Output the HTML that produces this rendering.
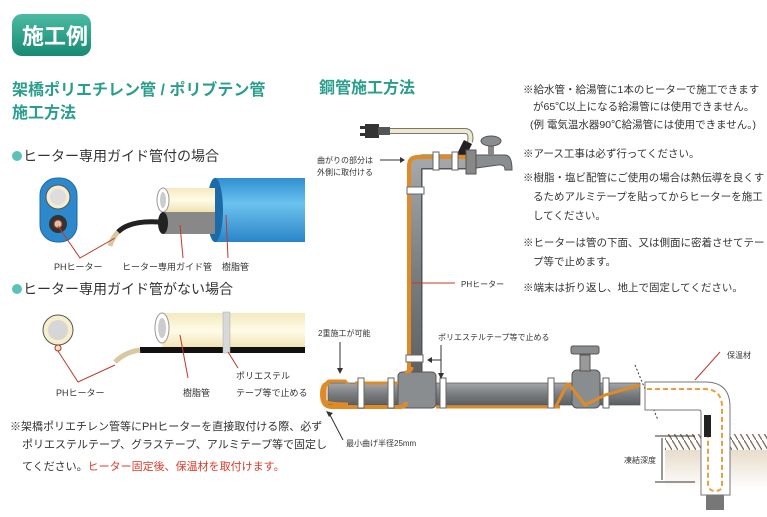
<!DOCTYPE html>
<html><head><meta charset="utf-8"><style>
body{margin:0;background:#fff;}
svg{display:block;font-family:"Liberation Sans","Noto Sans CJK JP",sans-serif;}
</style></head><body>
<svg width="767" height="517" viewBox="0 0 767 517" xmlns="http://www.w3.org/2000/svg">
<defs>
<linearGradient id="badge" x1="0" y1="0" x2="0" y2="1"><stop offset="0" stop-color="#4dbba3"/><stop offset="1" stop-color="#178a72"/></linearGradient>
<linearGradient id="blue" x1="0" y1="0" x2="0" y2="1"><stop offset="0" stop-color="#2f8fd0"/><stop offset="0.4" stop-color="#6cc2ee"/><stop offset="1" stop-color="#2a85c8"/></linearGradient>
<linearGradient id="cream" x1="0" y1="0" x2="0" y2="1"><stop offset="0" stop-color="#f3e9bf"/><stop offset="0.5" stop-color="#fffbe6"/><stop offset="1" stop-color="#efe2b0"/></linearGradient>
<linearGradient id="gray" x1="0" y1="0" x2="0" y2="1"><stop offset="0" stop-color="#a4a7a9"/><stop offset="0.5" stop-color="#7a7d80"/><stop offset="1" stop-color="#5c5f62"/></linearGradient>
<linearGradient id="soil" x1="0" y1="0" x2="0" y2="1"><stop offset="0" stop-color="#e8dccb"/><stop offset="1" stop-color="#fff"/></linearGradient>
<pattern id="hatch" width="6" height="10" patternUnits="userSpaceOnUse"><line x1="0" y1="0" x2="6" y2="10" stroke="#7a6a5a" stroke-width="1.3"/></pattern>
</defs>

<rect x="12" y="14" width="79" height="42" rx="10" fill="url(#badge)"/>
<text x="22" y="44" font-size="22" font-weight="bold" fill="#fff">施工例</text>

<text x="12" y="95" font-size="16" font-weight="bold" fill="#2a9e8c">架橋ポリエチレン管 / ポリブテン管</text>
<text x="12" y="118" font-size="16" font-weight="bold" fill="#2a9e8c">施工方法</text>

<circle cx="17" cy="156" r="5" fill="#5cc2b6"/>
<text x="23" y="161" font-size="14" fill="#333">ヒーター専用ガイド管付の場合</text>

<rect x="40" y="178" width="37" height="64" rx="17" fill="#2e88cc" stroke="#1c6aa8"/>
<circle cx="58" cy="197" r="12" fill="#f4ecd0" stroke="#555"/>
<circle cx="58" cy="197" r="8" fill="#ddd"/>
<circle cx="58" cy="224" r="9" fill="#333"/>
<circle cx="58" cy="224" r="4" fill="#d8c4a0" stroke="#a33"/>
<rect x="215" y="178" width="90" height="64" fill="url(#blue)"/>
<ellipse cx="215" cy="210" rx="8" ry="32" fill="#1c6aa8"/>
<rect x="163" y="188" width="52" height="24" fill="url(#cream)"/>
<rect x="163" y="212" width="52" height="22" fill="#888"/>
<ellipse cx="163" cy="200" rx="6" ry="12" fill="#fff" stroke="#999"/>
<ellipse cx="163" cy="200" rx="3" ry="8" fill="#ccc"/>
<ellipse cx="163" cy="223" rx="5" ry="11" fill="#222"/>
<path d="M160 222 Q130 220 118 232" stroke="#222" stroke-width="5" fill="none"/>
<path d="M118 232 Q112 238 110 246" stroke="#d9c9a0" stroke-width="5" fill="none"/>
<path d="M58 226 L80 258 L115 238" stroke="#c0392b" fill="none" stroke-width="1"/>
<line x1="180" y1="225" x2="183" y2="258" stroke="#c0392b"/>
<line x1="226" y1="215" x2="228" y2="258" stroke="#c0392b"/>
<text x="54" y="270" font-size="9" fill="#333">PHヒーター</text>
<text x="122" y="270" font-size="9" fill="#333">ヒーター専用ガイド管</text>
<text x="222" y="270" font-size="9" fill="#333">樹脂管</text>

<circle cx="17" cy="289" r="5" fill="#5cc2b6"/>
<text x="23" y="294" font-size="14" fill="#333">ヒーター専用ガイド管がない場合</text>

<circle cx="58" cy="330" r="15" fill="#f6eecc" stroke="#555"/>
<circle cx="58" cy="330" r="10" fill="#d6d6d6"/>
<circle cx="58" cy="348" r="3" fill="#f4e6c0" stroke="#a33"/>
<rect x="162" y="313" width="143" height="36" fill="url(#cream)"/>
<ellipse cx="162" cy="328" rx="7" ry="15" fill="#fff" stroke="#999"/>
<ellipse cx="162" cy="328" rx="4" ry="10" fill="#ccc"/>
<rect x="140" y="347" width="165" height="6" fill="#111"/>
<path d="M140 350 Q125 352 115 362" stroke="#d9c9a0" stroke-width="5" fill="none"/>
<rect x="223" y="312" width="7" height="41" fill="#d8d8d8" stroke="#aaa" stroke-width="0.5"/>
<path d="M58 351 L78 382 L115 365" stroke="#c0392b" fill="none"/>
<line x1="180" y1="335" x2="188" y2="378" stroke="#c0392b"/>
<line x1="228" y1="352" x2="238" y2="368" stroke="#c0392b"/>
<text x="56" y="396" font-size="9" fill="#333">PHヒーター</text>
<text x="183" y="396" font-size="9" fill="#333">樹脂管</text>
<text x="236" y="379" font-size="9" fill="#333">ポリエステル</text>
<text x="236" y="396" font-size="9" fill="#333">テープ等で止める</text>

<text x="10" y="430" font-size="11" fill="#333">※架橋ポリエチレン管等にPHヒーターを直接取付ける際、必ず</text>
<text x="22" y="448" font-size="11" fill="#333">ポリエステルテープ、グラステープ、アルミテープ等で固定し</text>
<text x="22" y="470" font-size="11" fill="#333">てください。<tspan fill="#e03a2a">ヒーター固定後、保温材を取付けます。</tspan></text>

<text x="319" y="93" font-size="16" font-weight="bold" fill="#2a9e8c">鋼管施工方法</text>

<g font-size="10.5" fill="#333">
<text x="523" y="93">※給水管・給湯管に1本のヒーターで施工できます</text>
<text x="533" y="110">が65℃以上になる給湯管には使用できません。</text>
<text x="530" y="128">(例 電気温水器90℃給湯管には使用できません。)</text>
<text x="523" y="157">※アース工事は必ず行ってください。</text>
<text x="523" y="181">※樹脂・塩ビ配管にご使用の場合は熱伝導を良くす</text>
<text x="533" y="200">るためアルミテープを貼ってからヒーターを施工</text>
<text x="533" y="219">してください。</text>
<text x="523" y="246">※ヒーターは管の下面、又は側面に密着させてテー</text>
<text x="533" y="265">プ等で止めます。</text>
<text x="523" y="291">※端末は折り返し、地上で固定してください。</text>
</g>

<rect x="365" y="124" width="14" height="14" fill="#333"/>
<rect x="360" y="126" width="6" height="3" fill="#333"/>
<rect x="360" y="133" width="6" height="3" fill="#333"/>
<rect x="378" y="127" width="12" height="8" fill="#555"/>
<path d="M390 131 L465 131 Q472 131 470 142" stroke="#777" stroke-width="6" fill="none"/>
<path d="M390 131 L465 131 Q472 131 470 142" stroke="#eee8cc" stroke-width="4" fill="none"/>
<path d="M468 142 L458 162" stroke="#222" stroke-width="9"/>

<path d="M415 385 L415 170 Q415 162 423 162 L470 162" stroke="#555" stroke-width="15" fill="none"/>
<path d="M415 385 L415 170 Q415 162 423 162 L470 162" stroke="url(#gray)" stroke-width="12" fill="none"/>
<path d="M409 375 L409 166 Q409 157 418 157 L466 157" stroke="#e08a25" stroke-width="4" fill="none"/>
<rect x="407" y="187" width="17" height="7" fill="#fff" stroke="#666"/>
<rect x="433" y="152" width="6" height="18" fill="#fff" stroke="#666"/>
<rect x="452" y="152" width="6" height="18" fill="#fff" stroke="#666"/>
<rect x="466" y="150" width="10" height="24" fill="#888" stroke="#555"/>
<path d="M476 155 L505 155 Q512 155 512 170 L505 170 Q505 164 498 165 L476 168 Z" fill="#8a8d90" stroke="#555"/>
<rect x="488" y="140" width="6" height="15" fill="#888"/>
<ellipse cx="491" cy="141" rx="10" ry="5" fill="#8a8d90" stroke="#555"/>
<text x="317" y="163" font-size="8" fill="#333">曲がりの部分は</text>
<text x="317" y="175" font-size="8" fill="#333">外側に取付ける</text>
<line x1="380" y1="160" x2="400" y2="160" stroke="#333"/>
<path d="M400 157 L405 160 L400 163 Z" fill="#333"/>
<line x1="412" y1="283" x2="455" y2="283" stroke="#c0392b"/>
<text x="461" y="287" font-size="8" fill="#333">PHヒーター</text>
<rect x="406" y="355" width="17" height="7" fill="#fff" stroke="#666"/>

<rect x="328" y="383" width="312" height="22" fill="url(#gray)" stroke="#555" stroke-width="0.7"/>
<rect x="398" y="372" width="38" height="36" rx="4" fill="#8a8d90" stroke="#555"/>
<path d="M330 383 Q322 383 322 394 Q322 407 332 407 L400 407 Q406 407 406 402" stroke="#e08a25" stroke-width="4" fill="none"/>
<path d="M348 384 L345 381 L330 381 Q325 381 325 392 L325 400 Q325 404 348 404" stroke="#e08a25" stroke-width="3" fill="none"/>
<path d="M355 383 L398 383" stroke="#e08a25" stroke-width="3"/>
<path d="M412 367 Q412 372 405 372" stroke="#e08a25" stroke-width="3" fill="none"/>
<path d="M436 407 L560 407" stroke="#e08a25" stroke-width="3"/>
<rect x="358" y="378" width="6" height="30" fill="#fff" stroke="#666"/>
<rect x="388" y="378" width="6" height="30" fill="#fff" stroke="#666"/>
<rect x="440" y="378" width="6" height="30" fill="#fff" stroke="#666"/>
<rect x="548" y="378" width="6" height="30" fill="#fff" stroke="#666"/>
<rect x="603" y="378" width="6" height="30" fill="#fff" stroke="#666"/>
<rect x="572" y="370" width="28" height="38" rx="5" fill="#8a8d90" stroke="#555"/>
<rect x="580" y="355" width="10" height="16" fill="#999" stroke="#555"/>
<rect x="571" y="346" width="28" height="8" rx="2" fill="#8a8d90" stroke="#555"/>
<path d="M556 406 L568 383 M568 383 L585 405 L605 395 L640 385" stroke="#e08a25" stroke-width="3" fill="none"/>
<text x="318" y="336" font-size="8" fill="#333">2重施工が可能</text>
<line x1="340" y1="342" x2="340" y2="370" stroke="#333"/>
<path d="M337 368 L340 374 L343 368 Z" fill="#333"/>
<text x="438" y="340" font-size="8" fill="#333">ポリエステルテープ等で止める</text>
<line x1="441" y1="345" x2="441" y2="375" stroke="#333"/>
<path d="M438 373 L441 379 L444 373 Z" fill="#333"/>
<line x1="430" y1="360" x2="441" y2="360" stroke="#333"/>
<path d="M427 360 L432 357 L432 363 Z" fill="#333"/>
<line x1="330" y1="415" x2="343" y2="440" stroke="#333"/>
<path d="M326 411 L333 413 L329 417 Z" fill="#333"/>
<text x="346" y="446" font-size="8" fill="#333">最小曲げ半径25mm</text>

<rect x="665" y="434" width="102" height="16" fill="url(#hatch)"/>
<rect x="665" y="450" width="102" height="40" fill="url(#soil)"/>
<line x1="635" y1="365" x2="658" y2="420" stroke="#333" stroke-dasharray="2,2"/>
<path d="M645 382 L705 382 Q730 382 730 407 L730 495 L701 495 L701 412 Q701 410 699 410 L645 410 Z" fill="#fff" stroke="#777"/>
<rect x="706" y="495" width="18" height="15" fill="#777"/>
<path d="M647 389 L704 389 Q722 389 722 407 L722 485 Q722 491 715 491 Q708 491 708 483 L708 435" stroke="#e8a040" stroke-width="2" stroke-dasharray="5,3" fill="none"/>
<rect x="704" y="415" width="7" height="22" fill="#222"/>
<line x1="695" y1="380" x2="720" y2="352" stroke="#c0392b"/>
<text x="727" y="358" font-size="8" fill="#333">保温材</text>
<line x1="655" y1="436" x2="695" y2="436" stroke="#333"/>
<line x1="655" y1="482" x2="695" y2="482" stroke="#333"/>
<line x1="662" y1="438" x2="662" y2="480" stroke="#333"/>
<text x="624" y="463" font-size="8" fill="#333">凍結深度</text>
</svg>
</body></html>
